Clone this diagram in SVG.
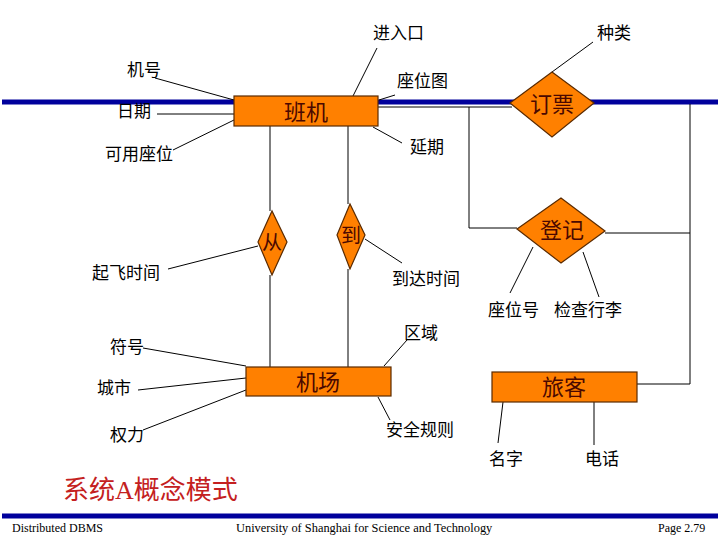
<svg xmlns="http://www.w3.org/2000/svg" width="720" height="540" viewBox="0 0 720 540">
<style>
.lbl{font-family:"Noto Sans CJK SC","Liberation Sans",sans-serif;font-size:17px;fill:#000}
.ent{fill:#ff8000;stroke:#5a2a00;stroke-width:1.2}
.et{font-family:"Noto Sans CJK SC","Liberation Sans",sans-serif;font-size:22px;fill:#4a0800;text-anchor:middle}
.ln{stroke:#000;stroke-width:1;fill:none}
.bar{stroke:#00009c;stroke-width:5}
.ft{font-family:"Liberation Serif",serif;font-size:12px;fill:#000}
</style>
<rect width="720" height="540" fill="#fff"/>
<g id="bars">
<line class="bar" x1="2" y1="102" x2="234" y2="102"/>
<line class="bar" x1="378" y1="102" x2="718" y2="102"/>
<line class="bar" x1="2" y1="516" x2="718" y2="516"/>
</g>
<g id="connectors">
<line class="ln" x1="155" y1="78" x2="234" y2="100"/>
<line class="ln" x1="157" y1="114" x2="234" y2="114"/>
<line class="ln" x1="173" y1="150" x2="234" y2="120"/>
<line class="ln" x1="353" y1="96" x2="377" y2="48"/>
<line class="ln" x1="379" y1="100" x2="395" y2="95"/>
<line class="ln" x1="373" y1="127" x2="402" y2="143"/>
<polyline class="ln" points="378,107 512,107"/>
<polyline class="ln" points="469,107 469,228 517,228"/>
<line class="ln" x1="552" y1="72" x2="593" y2="42"/>
<polyline class="ln" points="605,233 690,233"/>
<polyline class="ln" points="690,104 690,384 637,384"/>
<line class="ln" x1="533" y1="247" x2="510" y2="293"/>
<line class="ln" x1="583" y1="252" x2="599" y2="297"/>
<line class="ln" x1="270" y1="126" x2="270" y2="211"/>
<line class="ln" x1="270" y1="275" x2="270" y2="367"/>
<line class="ln" x1="348" y1="126" x2="348" y2="204"/>
<line class="ln" x1="348" y1="269" x2="348" y2="367"/>
<line class="ln" x1="258" y1="246" x2="168" y2="269"/>
<line class="ln" x1="365" y1="239" x2="402" y2="263"/>
<line class="ln" x1="143" y1="348" x2="246" y2="366"/>
<line class="ln" x1="138" y1="390" x2="246" y2="378"/>
<line class="ln" x1="143" y1="430" x2="246" y2="390"/>
<line class="ln" x1="384" y1="366" x2="407" y2="340"/>
<line class="ln" x1="378" y1="397" x2="390" y2="420"/>
<line class="ln" x1="503" y1="402" x2="498" y2="443"/>
<line class="ln" x1="594" y1="402" x2="594" y2="445"/>
</g>
<g id="banji">
<rect class="ent" x="234" y="96" width="144" height="30"/>
<text class="et" x="306" y="120">班机</text>
</g>
<g id="dingpiao">
<polygon class="ent" points="510,103 552,72 594,103 552,137"/>
<text class="et" x="552" y="112">订票</text>
</g>
<g id="dengji">
<polygon class="ent" points="517,229 561,198 605,231 561,263"/>
<text class="et" x="562" y="238">登记</text>
</g>
<g id="cong">
<polygon class="ent" points="258,242 272,211 287,242 272,275"/>
<text class="et" x="272" y="250" style="font-size:20px">从</text>
</g>
<g id="dao">
<polygon class="ent" points="337,235 350,204 365,235 350,269"/>
<text class="et" x="351" y="243" style="font-size:20px">到</text>
</g>
<g id="jichang">
<rect class="ent" x="246" y="367" width="145" height="29"/>
<text class="et" x="318" y="390">机场</text>
</g>
<g id="lvke">
<rect class="ent" x="492" y="372" width="145" height="30"/>
<text class="et" x="564" y="395">旅客</text>
</g>
<g id="labels">
<text class="lbl" x="373" y="39">进入口</text>
<text class="lbl" x="597" y="39">种类</text>
<text class="lbl" x="127" y="76">机号</text>
<text class="lbl" x="397" y="87">座位图</text>
<text class="lbl" x="117" y="117">日期</text>
<text class="lbl" x="410" y="153">延期</text>
<text class="lbl" x="105" y="160">可用座位</text>
<text class="lbl" x="92" y="279">起飞时间</text>
<text class="lbl" x="392" y="285">到达时间</text>
<text class="lbl" x="488" y="316">座位号</text>
<text class="lbl" x="554" y="316">检查行李</text>
<text class="lbl" x="404" y="339">区域</text>
<text class="lbl" x="110" y="353">符号</text>
<text class="lbl" x="97" y="394">城市</text>
<text class="lbl" x="386" y="436">安全规则</text>
<text class="lbl" x="110" y="441">权力</text>
<text class="lbl" x="489" y="465">名字</text>
<text class="lbl" x="585" y="465">电话</text>
</g>
<g id="title">
<text x="63" y="499" style="font-family:'Liberation Serif','Noto Sans CJK SC',serif;font-size:26px;fill:#c42020">系统A概念模式</text>
</g>
<g id="footer">
<text class="ft" x="12" y="532">Distributed DBMS</text>
<text class="ft" x="236" y="532" style="font-size:12.4px">University of  Shanghai for Science and Technology</text>
<text class="ft" x="658" y="532">Page 2.79</text>
</g>
</svg>
